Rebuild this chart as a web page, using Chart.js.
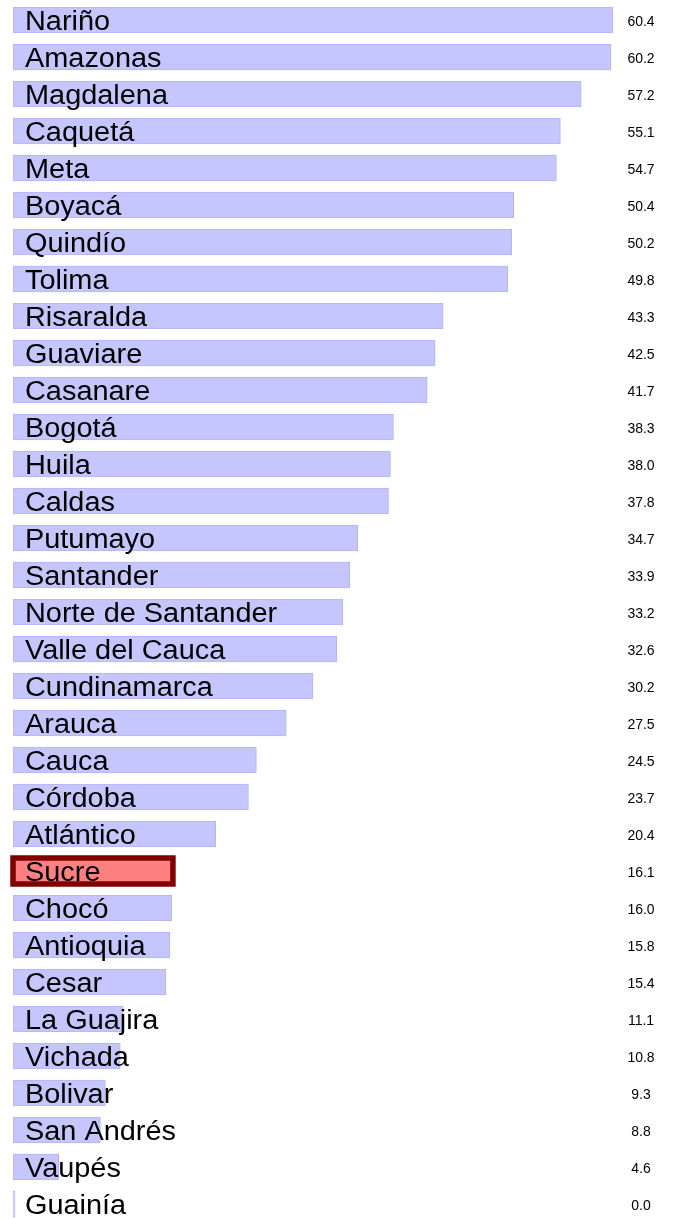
<!DOCTYPE html>
<html>
<head>
<meta charset="utf-8">
<script src="https://cdn.jsdelivr.net/npm/chart.js@4.4.7/dist/chart.umd.min.js"></script>
<style>
  html, body { margin: 0; padding: 0; background: #fff; overflow: hidden; }
  #wrap { width: 675px; height: 1223px; }
</style>
</head>
<body>
<div id="wrap"><canvas id="c"></canvas></div>
<script>
const departments = ['Nariño', 'Amazonas', 'Magdalena', 'Caquetá', 'Meta', 'Boyacá', 'Quindío', 'Tolima',
  'Risaralda', 'Guaviare', 'Casanare', 'Bogotá', 'Huila', 'Caldas', 'Putumayo', 'Santander',
  'Norte de Santander', 'Valle del Cauca', 'Cundinamarca', 'Arauca', 'Cauca', 'Córdoba', 'Atlántico',
  'Sucre', 'Chocó', 'Antioquia', 'Cesar', 'La Guajira', 'Vichada', 'Bolivar', 'San Andrés', 'Vaupés', 'Guainía'];
const values = [60.4, 60.2, 57.2, 55.1, 54.7, 50.4, 50.2, 49.8, 43.3, 42.5, 41.7, 38.3, 38.0, 37.8, 34.7, 33.9,
  33.2, 32.6, 30.2, 27.5, 24.5, 23.7, 20.4, 16.1, 16.0, 15.8, 15.4, 11.1, 10.8, 9.3, 8.8, 4.6, 0.0];
const highlight = 'Sucre';

const isHi = (i) => departments[i] === highlight;

// thick dark outline round the highlighted bar, centred on its edge
const outlinePlugin = {
  id: 'outline',
  afterDatasetsDraw(chart) {
    const { ctx } = chart;
    chart.getDatasetMeta(0).data.forEach((bar, i) => {
      if (!isHi(i)) return;
      const { x, y, base, height } = bar.getProps(['x', 'y', 'base', 'height'], true);
      ctx.save();
      ctx.strokeStyle = '#800000';
      ctx.lineWidth = 5.5;
      ctx.strokeRect(base, y - height / 2, x - base, height);
      ctx.restore();
    });
  },
};

const labelPlugin = {
  id: 'labels',
  afterDatasetsDraw(chart) {
    const { ctx } = chart;
    const meta = chart.getDatasetMeta(0);
    const xs = chart.scales.x;
    ctx.save();
    ctx.fillStyle = '#000';
    ctx.textBaseline = 'middle';
    meta.data.forEach((bar, i) => {
      ctx.save();
      ctx.font = '27px "Liberation Sans", Arial, sans-serif';
      ctx.textAlign = 'left';
      ctx.translate(xs.left + 12, bar.y + 3);
      ctx.scale(1.07, 1);
      ctx.fillText(departments[i], 0, 0);
      ctx.restore();
      ctx.font = '14px "Liberation Sans", Arial, sans-serif';
      ctx.textAlign = 'center';
      ctx.fillText(values[i].toFixed(1), 641, bar.y + 2);
    });
    ctx.restore();
  },
};

new Chart(document.getElementById('c'), {
  type: 'bar',
  data: {
    labels: departments,
    datasets: [{
      data: values,
      backgroundColor: departments.map((_, i) => isHi(i) ? '#ff8080' : '#c6c6ff'),
      borderColor: '#b4b4f4',
      borderWidth: departments.map((_, i) => isHi(i) ? 0 : 1),
      borderSkipped: false,
      barThickness: 26,
      minBarLength: 2,
    }],
  },
  plugins: [outlinePlugin, labelPlugin],
  options: {
    indexAxis: 'y',
    responsive: true,
    maintainAspectRatio: false,
    animation: false,
    layout: { padding: { left: 13, right: 62, top: 1.5, bottom: 0.5 } },
    scales: {
      x: { display: false, min: 0, max: 60.4 },
      y: { display: false },
    },
    plugins: { legend: { display: false }, tooltip: { enabled: false } },
  },
});
</script>
</body>
</html>
